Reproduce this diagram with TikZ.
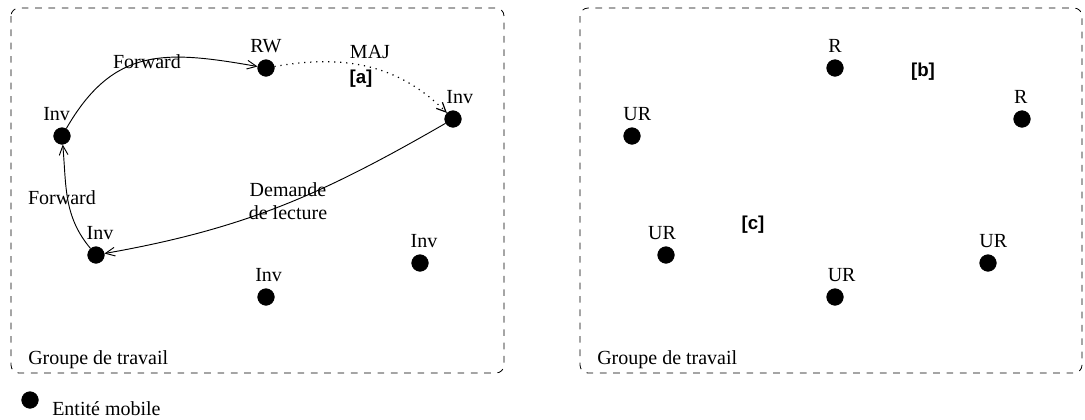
\documentclass[tikz,border=0pt]{standalone}
\usepackage{fontspec}
\setmainfont{Liberation Serif}
\newfontfamily\tagfont{Liberation Sans}
\usepackage{tikz}
\usetikzlibrary{arrows.meta,positioning,calc}
\tikzset{
entity/.style = {draw, fill=black, circle, inner sep=0pt, minimum size=12.5pt},
txt/.style    = {inner sep=0pt, font=\fontsize{15}{17}\selectfont},
tag/.style    = {inner sep=0pt, font=\tagfont\bfseries\fontsize{14}{16}\selectfont},
group/.style  = {draw, dash pattern=on 5pt off 5pt, rounded corners=6pt, line width=0.6pt},
every label/.style = {inner sep=0pt, font=\fontsize{15}{17}\selectfont},
link/.style   = {line width=0.7pt},
update/.style = {line width=0.9pt, dash pattern=on 0.9pt off 3.6pt}
}

\begin{document}
\begin{tikzpicture}[x=0.75pt, y=0.75pt, label distance=5pt, >={Straight Barb[length=7pt,width=6.5pt]}]

                \useasboundingbox (0,0) rectangle (1085,-419);

                % groupes de travail
                \draw [group] (11,-8) rectangle (504,-373);
                \draw [group] (580,-8) rectangle (1082,-373);
                \node [txt, anchor=base west] (groupA) at (28,-364) {Groupe de travail};
                \node [txt, anchor=base west] (groupB) at (597,-364) {Groupe de travail};

                % groupe [a]
                \node [entity, label={[xshift=-4pt]above:Inv}] (invA) at (62,-136) {};
                \node [entity, label=above:RW] (rw) at (266,-68) {};
                \node [entity, label={[xshift=5pt]above:Inv}] (invB) at (453,-119) {};
                \node [entity, label={[xshift=3pt]above:Inv}] (invC) at (96,-255) {};
                \node [entity, label={[xshift=2pt]above:Inv}] (invD) at (266,-297) {};
                \node [entity, label={[xshift=3pt]above:Inv}] (invE) at (420,-263) {};

                \node [txt] (fwdA) at (147,-62) {Forward};
                \node [txt] (maj) at (370,-52) {MAJ};
                \node [tag] (tagA) at (361,-79) {[a]};
                \node [txt] (fwdB) at (62,-198) {Forward};
                \node [txt, align=center] (lect) at (288,-201) {Demande\\de lecture};

                \draw [link,->] (invA) to [out=60, in=170, looseness=1.2] (rw);
                \draw [->,update] (rw) to [out=10, in=135] (invB);
                \draw [link,->] (invB) to [out=210, in=10] (invC);
                \draw [link,->] (invC) to [out=130, in=-85] (invA);

                % groupes [b] et [c]
                \node [entity, label=above:R] (rA) at (835,-68) {};
                \node [entity, label={[xshift=-1pt]above:R}] (rB) at (1022,-119) {};
                \node [entity, label={[xshift=4pt]above:UR}] (urA) at (632,-136) {};
                \node [entity, label={[xshift=-3pt]above:UR}] (urB) at (666,-255) {};
                \node [entity, label={[xshift=5pt]above:UR}] (urC) at (835,-297) {};
                \node [entity, label={[xshift=4pt]above:UR}] (urD) at (988,-263) {};
                \node [tag] (tagB) at (923,-72) {[b]};
                \node [tag] (tagC) at (753,-225) {[c]};

                % legende
                \node [entity] (legend) at (30,-400) {};
                \node [txt, anchor=base west] (legendtxt) at (52,-415) {Entité mobile};
\end{tikzpicture}
\end{document}
